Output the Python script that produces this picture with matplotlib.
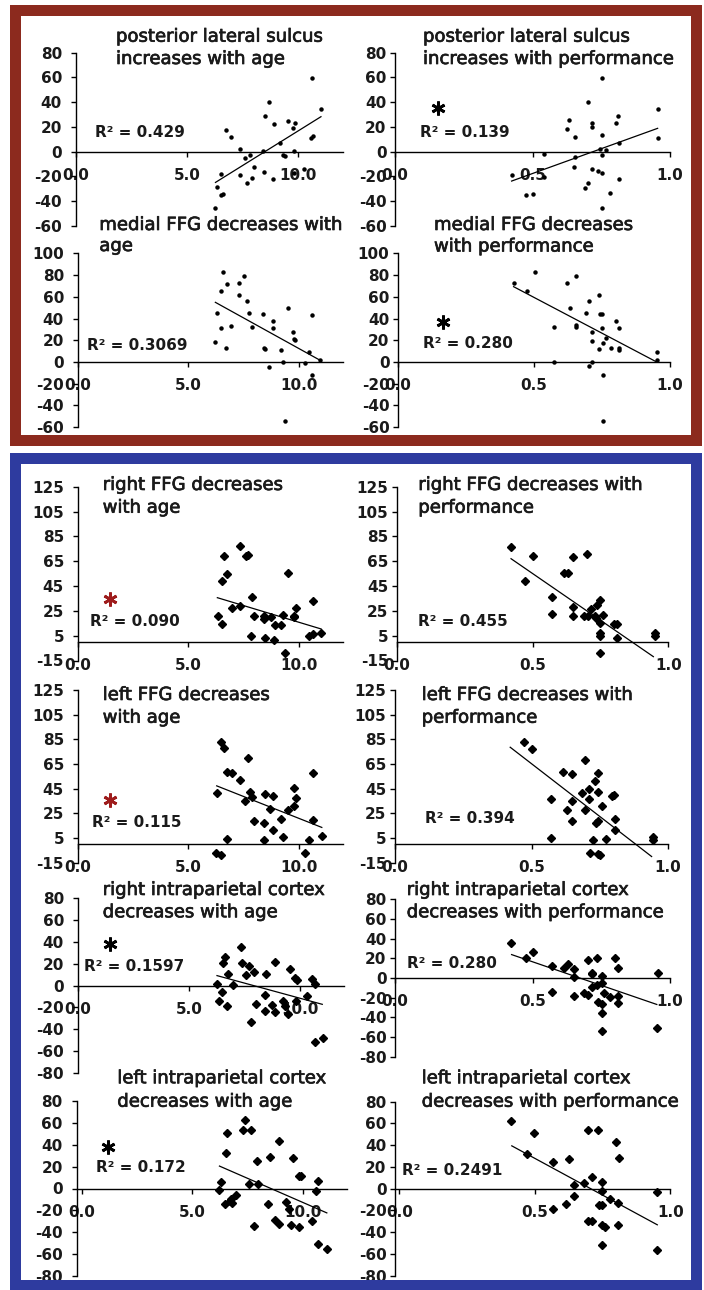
import matplotlib
matplotlib.use("Agg")
import matplotlib.pyplot as plt
import matplotlib.patheffects as pe
from matplotlib.patches import Rectangle

W, H = 704, 1290

# ---- data ----------------------------------------------------------------
sulcus_age_x = [10.63, 11.03, 8.71, 8.49, 8.91, 9.55, 9.88, 9.78, 6.77, 7.0, 10.58, 10.66, 9.19,
                7.37, 8.42, 9.81, 7.82, 7.59, 9.34, 9.43, 8.01, 10.28, 8.45, 6.52, 7.37, 7.92,
                8.86, 7.70, 6.35, 6.62, 6.55, 6.28, 9.81]
sulcus_age_y = [59.3, 34.2, 39.9, 28.8, 22.4, 25.0, 23.4, 18.9, 17.5, 11.6, 10.8, 12.9, 7.3,
                1.9, 0.8, 0.8, -2.7, -4.8, -2.7, -3.5, -12.1, -14.3, -16.4, -17.8, -19.1, -21.0,
                -21.8, -25.6, -28.8, -34.2, -35.3, -45.5, -17.0]
sulcus_perf_x = [0.752, 0.703, 0.955, 0.633, 0.718, 0.812, 0.718, 0.802, 0.627, 0.753, 0.655,
                 0.955, 0.815, 0.745, 0.766, 0.542, 0.753, 0.655, 0.652, 0.718, 0.739, 0.753,
                 0.424, 0.542, 0.813, 0.703, 0.691, 0.781, 0.475, 0.503, 0.753]
sulcus_perf_y = [59.5, 39.9, 34.5, 25.3, 23.2, 28.8, 19.7, 22.9, 18.0, 13.2, 11.9, 10.8, 7.3,
                 1.9, 1.3, -2.2, -3.0, -4.3, -12.1, -13.7, -15.9, -17.5, -18.6, -20.5, -22.1,
                 -25.1, -29.1, -33.4, -35.0, -34.5, -45.3]
mffg_age_x = [6.58, 6.73, 6.47, 7.31, 7.53, 7.31, 7.64, 6.31, 7.76, 8.37, 6.46, 6.93, 7.89, 8.85,
              8.82, 9.49, 9.73, 9.79, 9.83, 10.59, 6.22, 6.70, 8.43, 8.47, 9.20, 10.48, 9.27,
              10.26, 10.97, 8.67, 10.59, 9.38]
mffg_age_y = [82.5, 72.1, 65.3, 73.0, 79.4, 61.7, 56.1, 45.4, 45.4, 44.5, 31.6, 33.4, 32.5, 37.7,
              31.6, 49.4, 27.9, 21.2, 19.9, 43.3, 18.1, 13.2, 13.2, 12.0, 11.0, 9.2, 0.3,
              -0.6, 1.5, -4.3, -12.3, -54.0]
mffg_perf_x = [0.503, 0.653, 0.425, 0.622, 0.476, 0.740, 0.703, 0.634, 0.690, 0.742, 0.751,
               0.653, 0.656, 0.574, 0.751, 0.801, 0.811, 0.715, 0.715, 0.755, 0.763, 0.740,
               0.782, 0.811, 0.811, 0.953, 0.953, 0.574, 0.715, 0.703, 0.755, 0.755]
mffg_perf_y = [82.5, 79.1, 73.0, 72.4, 65.6, 61.3, 56.1, 49.4, 45.1, 44.2, 44.2, 34.0, 32.5,
               32.2, 31.6, 37.7, 31.0, 27.9, 19.6, 17.8, 21.8, 12.3, 13.2, 12.6, 11.0, 9.2, 1.5,
               0.3, 0.0, -4.0, -12.3, -54.0]
rffg_age_x = [7.34, 6.61, 7.61, 7.69, 6.76, 9.52, 6.51, 7.90, 10.62, 6.96, 7.34, 9.86, 6.35,
              7.99, 8.43, 8.43, 8.73, 9.30, 9.76, 9.79, 6.51, 8.90, 9.20, 7.82, 8.47, 8.88,
              10.48, 10.62, 11.01, 9.39]
rffg_age_y = [77.2, 69.2, 69.2, 70.0, 54.7, 55.7, 49.0, 35.9, 33.2, 27.6, 29.2, 27.0, 21.1,
              20.8, 20.8, 18.7, 20.3, 21.9, 21.1, 19.8, 14.1, 13.6, 13.6, 5.0, 2.9, 1.2,
              5.0, 6.3, 6.9, -9.2]
rffg_perf_x = [0.421, 0.501, 0.650, 0.699, 0.617, 0.632, 0.474, 0.571, 0.650, 0.748, 0.736,
               0.714, 0.571, 0.650, 0.690, 0.706, 0.730, 0.761, 0.733, 0.748, 0.801, 0.810,
               0.750, 0.750, 0.951, 0.951, 0.810, 0.748]
rffg_perf_y = [76.7, 69.4, 68.6, 70.5, 55.5, 55.5, 49.3, 35.9, 27.8, 33.7, 29.7, 26.7, 22.7,
               21.1, 21.1, 21.1, 21.1, 21.6, 19.5, 15.5, 14.1, 14.4, 6.9, 5.0, 6.9, 4.7, 2.9,
               -9.2]
lffg_age_x = [6.47, 6.61, 7.69, 6.76, 6.96, 7.34, 10.64, 6.31, 7.79, 8.47, 8.85, 9.76, 9.86,
              7.90, 7.56, 8.70, 9.76, 9.53, 7.99, 8.43, 9.18, 10.64, 8.85, 6.76, 9.30, 11.04,
              6.23, 6.46, 10.29, 8.43, 10.48]
lffg_age_y = [83.2, 77.8, 69.5, 58.7, 58.1, 51.7, 58.1, 41.4, 42.2, 40.6, 39.2, 45.7, 37.1,
              37.9, 35.2, 28.5, 31.2, 27.9, 19.0, 17.1, 20.6, 19.8, 11.7, 4.5, 5.5, 6.3,
              -7.1, -9.0, -7.1, 3.1, 3.1]
lffg_perf_x = [0.473, 0.501, 0.697, 0.616, 0.648, 0.745, 0.733, 0.712, 0.745, 0.685, 0.794,
               0.802, 0.570, 0.648, 0.712, 0.758, 0.630, 0.697, 0.648, 0.736, 0.745, 0.806,
               0.806, 0.570, 0.772, 0.945, 0.713, 0.745, 0.752, 0.727, 0.945]
lffg_perf_y = [82.7, 77.0, 68.6, 58.4, 57.0, 57.6, 51.1, 44.9, 42.2, 41.4, 38.7, 39.5, 36.8,
               34.7, 36.8, 30.9, 27.4, 27.9, 18.5, 17.4, 18.5, 20.6, 11.2, 5.3, 4.5, 5.8,
               -7.1, -8.2, -9.0, 3.1, 3.1]
rips_age_x = [7.37, 6.62, 6.54, 7.40, 7.70, 8.90, 9.55, 7.94, 7.59, 6.77, 8.50, 9.80, 9.88,
              10.56, 7.0, 6.27, 10.69, 6.51, 8.44, 10.35, 6.36, 6.72, 8.05, 8.75, 9.25, 9.35,
              8.44, 8.90, 9.49, 9.82, 7.82, 10.68, 11.05]
rips_age_y = [35.7, 26.6, 20.5, 21.1, 18.3, 21.4, 15.3, 12.2, 9.5, 10.4, 10.4, 7.3, 5.2, 6.1,
              0.6, 1.5, 1.2, -5.5, -8.5, -9.2, -14.0, -18.3, -17.1, -17.4, -13.7, -18.3,
              -23.2, -24.1, -25.6, -14.0, -33.6, -51.9, -48.2]
rips_perf_x = [0.422, 0.501, 0.475, 0.701, 0.736, 0.800, 0.630, 0.570, 0.616, 0.651, 0.810,
               0.715, 0.715, 0.955, 0.752, 0.651, 0.752, 0.715, 0.736, 0.570, 0.651, 0.687,
               0.701, 0.761, 0.782, 0.810, 0.810, 0.737, 0.752, 0.752, 0.752, 0.953]
rips_perf_y = [35.7, 26.6, 20.1, 18.7, 20.8, 20.8, 14.6, 11.9, 10.2, 8.9, 10.2, 5.4, 4.1, 5.4,
               1.7, 1.0, -5.1, -9.2, -7.5, -14.6, -18.4, -15.0, -17.7, -15.3, -19.4, -18.4,
               -25.5, -24.5, -26.2, -35.1, -54.1, -50.7]
lips_age_x = [7.38, 7.30, 7.64, 6.58, 8.92, 6.51, 8.51, 9.56, 7.91, 9.80, 9.89, 6.30, 7.56,
              7.98, 10.69, 6.22, 10.57, 6.96, 6.73, 6.70, 6.45, 6.78, 8.43, 9.23, 9.34, 8.73,
              8.93, 9.44, 9.82, 10.39, 7.80, 10.69, 11.07]
lips_age_y = [62.6, 53.7, 53.7, 51.0, 43.7, 32.7, 28.7, 27.5, 25.3, 11.3, 11.3, 6.1, 3.7, 4.0,
              6.7, -1.5, -2.4, -5.5, -9.2, -11.3, -14.4, -13.7, -14.4, -12.2, -18.9, -28.4,
              -32.1, -33.0, -35.1, -29.6, -34.5, -50.4, -55.0]
lips_perf_x = [0.412, 0.497, 0.695, 0.734, 0.798, 0.470, 0.811, 0.568, 0.627, 0.712, 0.683,
               0.748, 0.646, 0.749, 0.952, 0.646, 0.777, 0.808, 0.615, 0.737, 0.749, 0.568,
               0.695, 0.712, 0.749, 0.759, 0.808, 0.748, 0.952]
lips_perf_y = [62.5, 50.8, 53.8, 53.8, 43.1, 32.0, 28.3, 24.6, 27.4, 10.5, 5.5, 6.2, 3.1,
               -2.2, -3.1, -6.5, -9.8, -12.9, -14.2, -15.1, -15.1, -19.1, -29.8, -29.8,
               -33.8, -35.4, -33.8, -51.4, -56.3]

# trend line end points (x0, y0, x1, y1)
sulcus_age_fit = [6.28, -24.8, 11.03, 28.3]
sulcus_perf_fit = [0.424, -23.7, 0.955, 18.9]
mffg_age_fit = [6.22, 54.9, 10.97, 1.5]
mffg_perf_fit = [0.425, 69.3, 0.951, 0.0]
rffg_age_fit = [6.31, 35.6, 11.01, 10.4]
rffg_perf_fit = [0.421, 67.0, 0.945, -11.9]
lffg_age_fit = [6.28, 47.3, 11.04, 13.6]
lffg_perf_fit = [0.422, 78.6, 0.940, -10.0]
rips_age_fit = [6.27, 9.2, 11.02, -17.1]
rips_perf_fit = [0.424, 23.8, 0.952, -26.9]
lips_age_fit = [6.22, 20.5, 11.07, -22.3]
lips_perf_fit = [0.415, 39.4, 0.952, -33.2]

titles = [
    ["posterior lateral sulcus", "increases with age"],
    ["posterior lateral sulcus", "increases with performance"],
    ["medial FFG decreases with", "age"],
    ["medial FFG decreases", "with performance"],
    ["right FFG decreases", "with age"],
    ["right FFG decreases with", "performance"],
    ["left FFG decreases", "with age"],
    ["left FFG decreases with", "performance"],
    ["right intraparietal cortex", "decreases with age"],
    ["right intraparietal cortex", "decreases with performance"],
    ["left intraparietal cortex", "decreases with age"],
    ["left intraparietal cortex", "decreases with performance"],
]
r2_labels = ["0.429", "0.139", "0.3069", "0.280", "0.090", "0.455",
             "0.115", "0.394", "0.1597", "0.280", "0.172", "0.2491"]
# significance marks: None, black or red
stars = [None, "k", None, "k", "r", None, "r", None, "k", None, "k", None]

yticks_60_80 = list(range(-60, 81, 20))
yticks_60_100 = list(range(-60, 101, 20))
yticks_ffg = list(range(-15, 126, 20))
yticks_80_80 = list(range(-80, 81, 20))
age_ticks, age_labels = [0, 5, 10], ["0.0", "5.0", "10.0"]
perf_ticks, perf_labels = [0, 0.5, 1.0], ["0.0", "0.5", "1.0"]

# ---- layout (pixels) --------------------------------------------------------
# left, right, top, bottom of plotting area
boxes = [
    (76, 342.5, 52.7, 226), (395, 670, 52.7, 226),
    (78, 343, 253.3, 427.2), (398, 670, 253.3, 427.2),
    (78, 343, 486.7, 660.5), (396.7, 668.3, 486.7, 660.5),
    (78, 343, 690, 862.7), (395, 668, 690, 862.7),
    (78, 344, 898.3, 1073), (395, 670, 899.3, 1056.7),
    (76.7, 347.4, 1101, 1276), (395, 670.3, 1101.7, 1275.7),
]
title_pos = [(116, 41.7, 64), (423, 41.7, 64), (99.3, 230, 251), (434, 230, 251.5),
             (102.7, 490, 512.7), (418.3, 490, 512.7), (102.7, 700, 722.7),
             (421.7, 700, 722.7), (102.7, 895, 917.3), (406.7, 895, 917.3),
             (117.3, 1083.3, 1106.7), (421.7, 1083.3, 1106.7)]
r2_pos = [(95, 136.7), (420, 136.7), (87.3, 350), (423.3, 348.3), (90, 626), (418.3, 626),
          (91.7, 826.7), (425, 822.7), (84, 970.7), (407.3, 968.3), (96, 1172.3),
          (401.7, 1175)]
star_pos = [None, (438.3, 108.3), None, (443.3, 322.3), (110, 599.3), None, (110, 800), None,
            (110, 944), None, (108.3, 1146.7), None]

panels = [
    (sulcus_age_x, sulcus_age_y, sulcus_age_fit, (0, 12), (-60, 80), yticks_60_80, "age"),
    (sulcus_perf_x, sulcus_perf_y, sulcus_perf_fit, (0, 1), (-60, 80), yticks_60_80, "perf"),
    (mffg_age_x, mffg_age_y, mffg_age_fit, (0, 12), (-60, 100), yticks_60_100, "age"),
    (mffg_perf_x, mffg_perf_y, mffg_perf_fit, (0, 1), (-60, 100), yticks_60_100, "perf"),
    (rffg_age_x, rffg_age_y, rffg_age_fit, (0, 12), (-15, 125), yticks_ffg, "age"),
    (rffg_perf_x, rffg_perf_y, rffg_perf_fit, (0, 1), (-15, 125), yticks_ffg, "perf"),
    (lffg_age_x, lffg_age_y, lffg_age_fit, (0, 12), (-15, 125), yticks_ffg, "age"),
    (lffg_perf_x, lffg_perf_y, lffg_perf_fit, (0, 1), (-15, 125), yticks_ffg, "perf"),
    (rips_age_x, rips_age_y, rips_age_fit, (0, 12), (-80, 80), yticks_80_80, "age"),
    (rips_perf_x, rips_perf_y, rips_perf_fit, (0, 1), (-80, 80), yticks_80_80, "perf"),
    (lips_age_x, lips_age_y, lips_age_fit, (-0.23, 12), (-80, 80), yticks_80_80, "age"),
    (lips_perf_x, lips_perf_y, lips_perf_fit, (-0.016, 1), (-80, 80), yticks_80_80, "perf"),
]

RED = "#8c2a1e"
BLUE = "#2e3b9f"
STAR_RED = "#9e1c1c"
TXT = "#1a1a1a"

plt.rcParams["font.family"] = ["DejaVu Sans"]
plt.rcParams["axes.unicode_minus"] = False

fig = plt.figure(figsize=(W / 100, H / 100), dpi=100)
fig.patch.set_facecolor("white")

title_fx = [pe.withStroke(linewidth=0.5, foreground=TXT)]


def px(x, y):
    return x / W, 1 - y / H


for i, (xs, ys, fit, xlim, ylim, yticks, kind) in enumerate(panels):
    left, right, top, bottom = boxes[i]
    ax = fig.add_axes([left / W, 1 - bottom / H, (right - left) / W, (bottom - top) / H])
    ax.patch.set_alpha(0)
    ax.set_xlim(xlim)
    ax.set_ylim(ylim)
    if i < 4:
        ax.plot(xs, ys, ls="none", marker="o", ms=2.2, color="black", clip_on=False)
    else:
        ax.plot(xs, ys, ls="none", marker="D", ms=3.6, color="black", clip_on=False)
    ax.plot([fit[0], fit[2]], [fit[1], fit[3]], color="black", lw=0.9, clip_on=False)
    for s in ("top", "right"):
        ax.spines[s].set_visible(False)
    ax.spines["bottom"].set_position(("data", 0))
    for s in ("left", "bottom"):
        ax.spines[s].set_linewidth(1.0)
    ax.set_yticks(yticks)
    if kind == "age":
        ax.set_xticks(age_ticks)
        ax.set_xticklabels(age_labels)
    else:
        ax.set_xticks(perf_ticks)
        ax.set_xticklabels(perf_labels)
    ax.tick_params(axis="y", direction="out", length=3.6, width=1.0,
                   pad=6.5 if i % 2 == 0 else 2.5, labelsize=11)
    ax.tick_params(axis="x", direction="out", length=3.6, width=1.0, pad=8, labelsize=11)
    for lab in ax.get_xticklabels() + ax.get_yticklabels():
        lab.set_fontweight("bold")
        lab.set_color(TXT)

    tx, b1, b2 = title_pos[i]
    for line, base in zip(titles[i], (b1, b2)):
        fig.text(*px(tx, base), line, fontsize=13, color=TXT, va="baseline", ha="left",
                 path_effects=title_fx)
    rx, ry = r2_pos[i]
    fig.text(*px(rx, ry), "R² = " + r2_labels[i], fontsize=11, fontweight="bold",
             color=TXT, va="baseline", ha="left")
    if stars[i] is not None:
        sx, sy = star_pos[i]
        col = STAR_RED if stars[i] == "r" else "black"
        fig.add_artist(plt.Line2D([sx / W], [1 - sy / H], marker=(6, 2, 0), ms=10,
                                  mew=2.0, color=col, transform=fig.transFigure))

# coloured frames round the two groups
fig.add_artist(Rectangle(px(14.5, 440), 681 / W, 430 / H, fill=False, ec=RED,
                         lw=11 * 0.72, transform=fig.transFigure))
fig.add_artist(Rectangle(px(14.5, 1284.5), 681 / W, 827 / H, fill=False, ec=BLUE,
                         lw=11 * 0.72, transform=fig.transFigure))

fig.savefig("out.png", dpi=100, facecolor="white")
